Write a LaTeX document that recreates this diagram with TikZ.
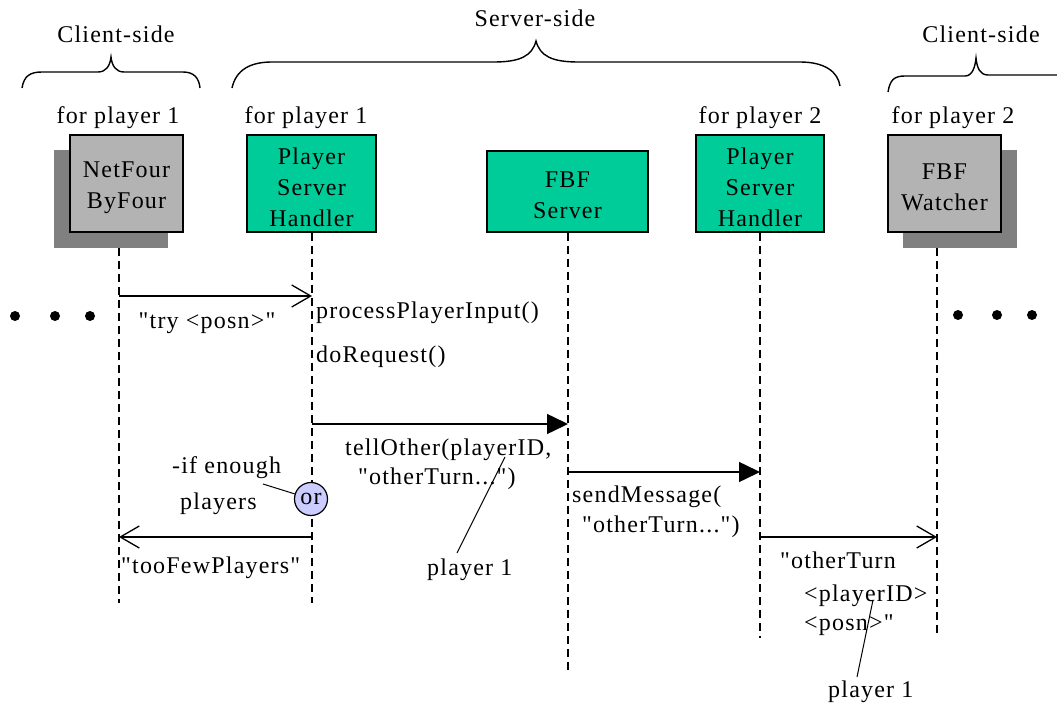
\documentclass[tikz,border=0pt]{standalone}
\usepackage{fontspec}
\setmainfont[LetterSpace=5, Ligatures=TeXOff]{Liberation Serif}
\usetikzlibrary{arrows.meta}
\definecolor{boxgreen}{RGB}{0,204,153}
\definecolor{boxgray}{RGB}{179,179,179}
\definecolor{shadowgray}{RGB}{128,128,128}
\definecolor{orfill}{RGB}{204,204,255}
\begin{document}
\begin{tikzpicture}[x=1pt,y=-1pt,
  every node/.style={font=\fontsize{24}{31}\selectfont, inner sep=0pt},
  objbox/.style={draw=black, line width=1.5pt},
  greenbox/.style={objbox, fill=boxgreen},
  graybox/.style={objbox, fill=boxgray},
  boxtext/.style={align=center, yshift=-4pt},
  shadowbox/.style={fill=shadowgray, minimum width=114pt, minimum height=98pt},
  life/.style={line width=1.3pt, dash pattern=on 8pt off 5pt},
  brace/.style={line width=1.4pt},
  msg/.style={line width=1.5pt},
  openmsg/.style={msg, -{Straight Barb[length=19pt,width=22pt,line width=1.3pt]}},
  fillmsg/.style={msg, -{Triangle[length=21pt,width=20pt]}},
  txt/.style={anchor=base west},
  ctxt/.style={anchor=base},
  dot/.style={circle, fill=black, minimum size=10pt},
  pointer/.style={line width=1pt}]
\useasboundingbox (0,0) rectangle (1057,703);

% --- braces grouping client and server sides ---
\draw[brace] (22,88) .. controls (24,76) and (30,72) .. (42,72) -- (98,72)
  .. controls (106,72) and (110,66) .. (111,57)
  .. controls (112,66) and (116,72) .. (124,72) -- (183,72)
  .. controls (194,72) and (199,78) .. (200,88);
\draw[brace] (232,88) .. controls (236,70) and (250,62) .. (272,62) -- (494,62)
  .. controls (520,62) and (532,56) .. (536,41)
  .. controls (540,56) and (552,62) .. (578,62) -- (800,62)
  .. controls (825,62) and (838,72) .. (840,86);
\draw[brace] (888,92) .. controls (890,80) and (894,76) .. (905,76) -- (965,76)
  .. controls (972,76) and (975,68) .. (976,58)
  .. controls (977,68) and (980,75) .. (988,75) -- (1060,75);
\node[ctxt] (cs1) at (116,43) {Client-side};
\node[ctxt] (ss) at (535,27) {Server-side};
\node[ctxt] (cs2) at (981,43) {Client-side};

% --- object labels ---
\node[ctxt] (for1) at (118,124) {for player 1};
\node[ctxt] (for2) at (306,124) {for player 1};
\node[ctxt] (for3) at (760,124) {for player 2};
\node[ctxt] (for4) at (953,124) {for player 2};

% --- objects ---
\node[shadowbox] (nfsh) at (111,199) {};
\node[graybox, minimum width=113pt, minimum height=97pt] (nf) at (126.5,183.5) {};
\node[boxtext] (nft) at (nf) {NetFour\\ByFour};
\node[greenbox, minimum width=129pt, minimum height=97pt] (psh1) at (311.5,183.5) {};
\node[boxtext] (psh1t) at (psh1) {Player\\Server\\Handler};
\node[greenbox, minimum width=161pt, minimum height=81pt] (srv) at (567.5,191.5) {};
\node[boxtext] (srvt) at (srv) {FBF\\Server};
\node[greenbox, minimum width=128pt, minimum height=97pt] (psh2) at (760,183.5) {};
\node[boxtext] (psh2t) at (psh2) {Player\\Server\\Handler};
\node[shadowbox] (fwsh) at (960,199) {};
\node[graybox, minimum width=113pt, minimum height=97pt] (fw) at (944.5,183.5) {};
\node[boxtext] (fwt) at (fw) {FBF\\Watcher};

% --- lifelines ---
\coordinate (nfEnd) at (119,603);
\coordinate (p1End) at (312,603);
\coordinate (svEnd) at (568,670);
\coordinate (p2End) at (760,638);
\coordinate (fwEnd) at (937,638);
\draw[life] (nfEnd |- nfsh.south) -- (nfEnd);
\draw[life] (p1End |- psh1.south) -- (p1End);
\draw[life] (svEnd |- srv.south) -- (svEnd);
\draw[life] (p2End |- psh2.south) -- (p2End);
\draw[life] (fwEnd |- fwsh.south) -- (fwEnd);

% --- continuation dots ---
\node[dot] (dl1) at (15,316) {};
\node[dot] (dl2) at (55,316) {};
\node[dot] (dl3) at (90,316) {};
\node[dot] (dr1) at (958,315) {};
\node[dot] (dr2) at (997,315) {};
\node[dot] (dr3) at (1032,315) {};

% --- messages ---
\coordinate (m1s) at (119,296);
\coordinate (m1e) at (312,296);
\draw[openmsg] (m1s) -- (m1e);
\node[ctxt] (m1l) at (207,328) {"try <posn>"};
\node[txt] (ppi) at (316,318) {processPlayerInput()};
\node[txt] (dor) at (316,362) {doRequest()};

\coordinate (m2s) at (312,424);
\coordinate (m2e) at (568,424);
\draw[fillmsg] (m2s) -- (m2e);
\node[txt] (m2a) at (345,455) {tellOther(playerID,};
\node[txt] (m2b) at (358,484) {"otherTurn...")};

\coordinate (m3s) at (568,472);
\coordinate (m3e) at (760,472);
\draw[fillmsg] (m3s) -- (m3e);
\node[txt] (m3a) at (572,502) {sendMessage(};
\node[txt] (m3b) at (582,532) {"otherTurn...")};

\coordinate (m4s) at (760,537);
\coordinate (m4e) at (937,537);
\draw[openmsg] (m4s) -- (m4e);
\node[txt] (m4a) at (780,568) {"otherTurn};
\node[txt] (m4b) at (804,601) {<playerID>};
\node[txt] (m4c) at (804,630) {<posn>"};

\coordinate (m5s) at (312,537);
\coordinate (m5e) at (119,537);
\draw[openmsg] (m5s) -- (m5e);
\node[txt] (m5l) at (121,573) {"tooFewPlayers"};

% --- alternative marker ---
\node[draw=black, line width=1.2pt, fill=orfill, circle, minimum size=33pt] (orc) at (311,499) {or};
\node[txt] (if1) at (172,473) {-if enough};
\node[txt] (if2) at (180,509) {players};
\coordinate (ifp) at (263,484);
\draw[pointer] (ifp) -- (orc);

% --- notes on the player ID argument ---
\node[txt] (pl1) at (427,575) {player 1};
\coordinate (pl1a) at (457,553);
\coordinate (pl1b) at (505,457);
\draw[pointer] (pl1a) -- (pl1b);
\node[txt] (pl2) at (828,697) {player 1};
\coordinate (pl2a) at (857,677);
\coordinate (pl2b) at (873,600);
\draw[pointer] (pl2a) -- (pl2b);
\end{tikzpicture}
\end{document}
